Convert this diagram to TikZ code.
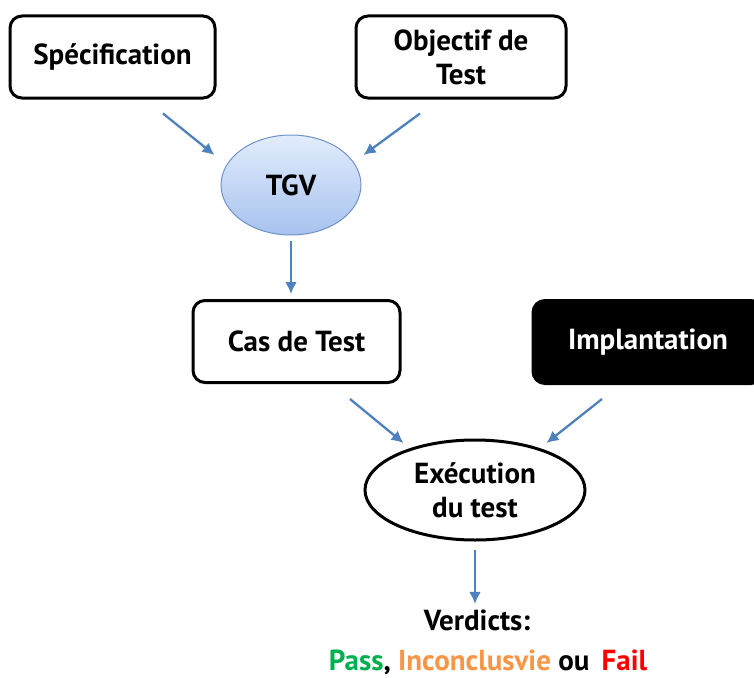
\documentclass[tikz,border=0pt]{standalone}
\usepackage{fontspec}
\setmainfont{PT Sans}
\usetikzlibrary{arrows.meta, shapes.geometric, positioning}
\definecolor{bleuFleche}{RGB}{79,129,189}
\definecolor{tgvHaut}{RGB}{226,236,252}
\definecolor{tgvBas}{RGB}{166,194,238}
\definecolor{tgvBord}{RGB}{112,146,200}
\definecolor{vertPass}{RGB}{0,176,80}
\definecolor{orangeInc}{RGB}{247,150,70}
\begin{document}
\begin{tikzpicture}[x=1pt, y=-1pt,
    texte/.style={font=\fontsize{29}{34}\selectfont\bfseries, align=center},
    boite/.style={texte, draw, line width=3pt, rounded corners=12pt,
        minimum width=205pt, minimum height=82pt},
    bulle/.style={texte, ellipse, inner sep=0pt},
    fleche/.style={draw=bleuFleche, line width=2.3pt,
        -{Latex[length=12pt, width=12pt]}}]
\clip (0,0) rectangle (754,677);
\node[boite] (spec) at (112.5,57) {Spécification};
\node[boite, minimum width=210pt] (obj) at (461,57) {Objectif de\\Test};
\node[bulle, draw=tgvBord, line width=1pt, top color=tgvHaut, bottom color=tgvBas,
    minimum width=140pt, minimum height=100pt] (tgv) at (291,185) {TGV};
\node[boite, minimum width=207pt] (cas) at (296.5,341.5) {Cas de Test};
\node[boite, fill=black, text=white, minimum width=230pt,
    minimum height=83pt] (impl) at (648,342) {Implantation};
\node[bulle, draw, line width=3pt, minimum width=220pt,
    minimum height=100pt] (exec) at (475,490) {Exécution\\du test};
\node[texte] (verd) at (477,620) {Verdicts:};
\node[texte] (res) at (488,662) {\textcolor{vertPass}{Pass}, \textcolor{orangeInc}{Inconclusvie} ou\, \textcolor{red}{Fail}};
\draw[fleche] ([shift={(50.5,14)}]spec.south) -- ([shift={(-6,-30)}]tgv.west);
\draw[fleche] ([shift={(-41,14)}]obj.south) -- ([shift={(2,-30)}]tgv.east);
\draw[fleche, shorten <=5pt, shorten >=5pt] (tgv.south) -- (tgv.south |- cas.north);
\draw[fleche] ([shift={(53.5,15)}]cas.south) -- ([shift={(40,-47)}]exec.west);
\draw[fleche] ([shift={(-46,14)}]impl.south) -- ([shift={(-40,-47)}]exec.east);
\draw[fleche, shorten <=8pt, shorten >=2pt] (exec.south) -- (exec.south |- verd.north);
\end{tikzpicture}
\end{document}
